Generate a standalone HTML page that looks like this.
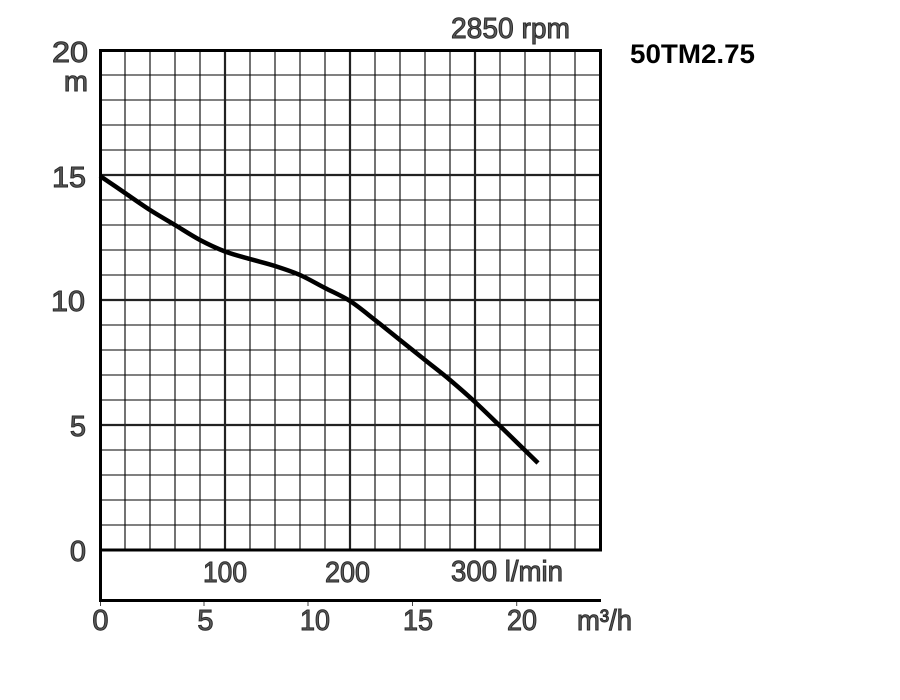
<!DOCTYPE html>
<html>
<head>
<meta charset="utf-8">
<style>
  html, body { margin: 0; padding: 0; background: #ffffff; }
  svg { display: block; }
  .lbl { font-family: "Liberation Sans", Arial, sans-serif; font-size: 29px; fill: #5a5a5a; stroke: #2a2a2a; stroke-width: 1; }
  .ttl { font-family: "Liberation Sans", Arial, sans-serif; font-size: 27px; font-weight: bold; fill: #000; }
</style>
</head>
<body>
<svg width="900" height="700" viewBox="0 0 900 700" xmlns="http://www.w3.org/2000/svg">
  <rect x="0" y="0" width="900" height="700" fill="#ffffff"/>

  <!-- minor grid -->
  <g stroke="#000" stroke-width="1.1">
    <line x1="125" y1="50" x2="125" y2="550"/>
    <line x1="150" y1="50" x2="150" y2="550"/>
    <line x1="175" y1="50" x2="175" y2="550"/>
    <line x1="200" y1="50" x2="200" y2="550"/>
    <line x1="250" y1="50" x2="250" y2="550"/>
    <line x1="275" y1="50" x2="275" y2="550"/>
    <line x1="300" y1="50" x2="300" y2="550"/>
    <line x1="325" y1="50" x2="325" y2="550"/>
    <line x1="375" y1="50" x2="375" y2="550"/>
    <line x1="400" y1="50" x2="400" y2="550"/>
    <line x1="425" y1="50" x2="425" y2="550"/>
    <line x1="450" y1="50" x2="450" y2="550"/>
    <line x1="500" y1="50" x2="500" y2="550"/>
    <line x1="525" y1="50" x2="525" y2="550"/>
    <line x1="550" y1="50" x2="550" y2="550"/>
    <line x1="575" y1="50" x2="575" y2="550"/>

    <line x1="100" y1="75" x2="600" y2="75"/>
    <line x1="100" y1="100" x2="600" y2="100"/>
    <line x1="100" y1="125" x2="600" y2="125"/>
    <line x1="100" y1="150" x2="600" y2="150"/>
    <line x1="100" y1="200" x2="600" y2="200"/>
    <line x1="100" y1="225" x2="600" y2="225"/>
    <line x1="100" y1="250" x2="600" y2="250"/>
    <line x1="100" y1="275" x2="600" y2="275"/>
    <line x1="100" y1="325" x2="600" y2="325"/>
    <line x1="100" y1="350" x2="600" y2="350"/>
    <line x1="100" y1="375" x2="600" y2="375"/>
    <line x1="100" y1="400" x2="600" y2="400"/>
    <line x1="100" y1="450" x2="600" y2="450"/>
    <line x1="100" y1="475" x2="600" y2="475"/>
    <line x1="100" y1="500" x2="600" y2="500"/>
    <line x1="100" y1="525" x2="600" y2="525"/>
  </g>

  <!-- major grid -->
  <g stroke="#222" stroke-width="2.2">
    <line x1="225" y1="50" x2="225" y2="550"/>
    <line x1="350" y1="50" x2="350" y2="550"/>
    <line x1="475" y1="50" x2="475" y2="550"/>
    <line x1="100" y1="175" x2="600" y2="175"/>
    <line x1="100" y1="300" x2="600" y2="300"/>
    <line x1="100" y1="425" x2="600" y2="425"/>
  </g>

  <!-- frame -->
  <g stroke="#000" stroke-width="3" fill="none">
    <rect x="100.5" y="50.5" width="500" height="499.5"/>
    <line x1="100.5" y1="549" x2="100.5" y2="601"/>
    <line x1="99" y1="600.5" x2="601" y2="600.5"/>
  </g>

  <!-- bottom ticks -->
  <g stroke="#444" stroke-width="1">
    <line x1="100.5" y1="602" x2="100.5" y2="606"/>
    <line x1="204" y1="602" x2="204" y2="606"/>
    <line x1="308" y1="602" x2="308" y2="606"/>
    <line x1="412.5" y1="602" x2="412.5" y2="606"/>
    <line x1="516.7" y1="602" x2="516.7" y2="606"/>
  </g>

  <!-- curve -->
  <path fill="none" stroke="#000" stroke-width="4.5" stroke-linejoin="round"
    d="M100,176
       C104.2,178.8 116.7,187.3 125,193
       C133.3,198.7 141.7,204.7 150,210
       C158.3,215.3 166.7,220 175,225
       C183.3,230 191.7,235.6 200,240
       C208.3,244.4 216.7,248.3 225,251.5
       C233.3,254.7 241.7,256.6 250,259
       C258.3,261.4 266.7,263.3 275,266
       C283.3,268.7 291.7,271.3 300,275
       C308.3,278.7 316.7,283.7 325,288
       C333.3,292.3 341.7,295.7 350,301
       C358.3,306.3 366.7,313.5 375,320
       C383.3,326.5 391.7,333.3 400,340
       C408.3,346.7 416.7,353.3 425,360
       C433.3,366.7 441.7,373 450,380
       C458.3,387 466.7,394.3 475,402
       C483.3,409.7 489.5,415.8 500,426
       C510.5,436.2 531.7,456.8 538,463"/>

  <!-- y labels -->
  <text class="lbl" x="52" y="62" textLength="36" lengthAdjust="spacingAndGlyphs">20</text>
  <text class="lbl" x="88" y="91" text-anchor="end">m</text>
  <text class="lbl" x="52" y="187" textLength="34" lengthAdjust="spacingAndGlyphs">15</text>
  <text class="lbl" x="51" y="311" textLength="34" lengthAdjust="spacingAndGlyphs">10</text>
  <text class="lbl" x="86" y="436" text-anchor="end">5</text>
  <text class="lbl" x="86" y="561" text-anchor="end">0</text>

  <!-- l/min labels -->
  <text class="lbl" x="203" y="582" textLength="44" lengthAdjust="spacingAndGlyphs">100</text>
  <text class="lbl" x="325" y="582" textLength="45" lengthAdjust="spacingAndGlyphs">200</text>
  <text class="lbl" x="451" y="581" textLength="112" lengthAdjust="spacingAndGlyphs">300 l/min</text>

  <!-- m3/h labels -->
  <text class="lbl" x="100.5" y="630" text-anchor="middle">0</text>
  <text class="lbl" x="205.5" y="630" text-anchor="middle">5</text>
  <text class="lbl" x="300" y="630" textLength="30" lengthAdjust="spacingAndGlyphs">10</text>
  <text class="lbl" x="403" y="630" textLength="30" lengthAdjust="spacingAndGlyphs">15</text>
  <text class="lbl" x="507" y="630" textLength="30" lengthAdjust="spacingAndGlyphs">20</text>
  <text class="lbl" x="577" y="630" textLength="55" lengthAdjust="spacingAndGlyphs">m³/h</text>

  <!-- top labels -->
  <text class="lbl" x="451" y="38" textLength="119" lengthAdjust="spacingAndGlyphs">2850 rpm</text>
  <text class="ttl" x="630" y="63" textLength="125" lengthAdjust="spacingAndGlyphs">50TM2.75</text>
</svg>
</body>
</html>
